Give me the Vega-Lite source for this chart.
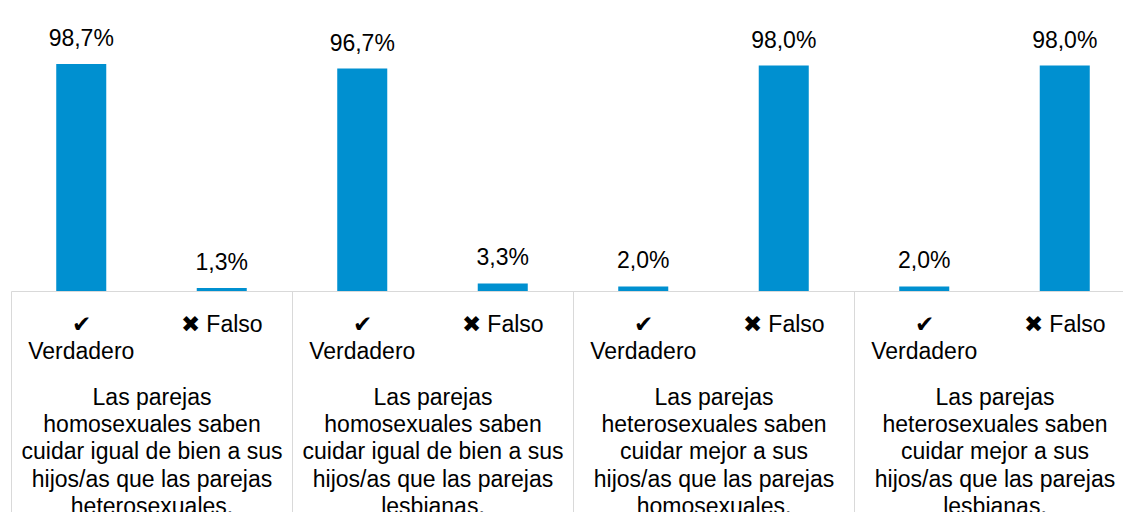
{
  "$schema": "https://vega.github.io/schema/vega-lite/v6.json",
  "width": 1124,
  "height": 230,
  "autosize": {"type": "none"},
  "padding": {"left": 11, "top": 61, "right": 0, "bottom": 221},
  "background": "#ffffff",
  "config": {
    "view": {"stroke": null},
    "font": "Liberation Sans",
    "locale": {"number": {"decimal": ",", "thousands": ".", "grouping": [3], "currency": ["", " €"]}},
    "axis": {"labelFont": "Liberation Sans", "labelColor": "#000000", "labelFontSize": 23, "title": null}
  },
  "data": {
    "values": [
      {"pregunta": "Las parejas homosexuales saben cuidar igual de bien a sus hijos/as que las parejas heterosexuales.", "respuesta": "Verdadero", "clave": "1 Verdadero", "valor": 0.987},
      {"pregunta": "Las parejas homosexuales saben cuidar igual de bien a sus hijos/as que las parejas heterosexuales.", "respuesta": "Falso", "clave": "1 Falso", "valor": 0.013},
      {"pregunta": "Las parejas homosexuales saben cuidar igual de bien a sus hijos/as que las parejas lesbianas.", "respuesta": "Verdadero", "clave": "2 Verdadero", "valor": 0.967},
      {"pregunta": "Las parejas homosexuales saben cuidar igual de bien a sus hijos/as que las parejas lesbianas.", "respuesta": "Falso", "clave": "2 Falso", "valor": 0.033},
      {"pregunta": "Las parejas heterosexuales saben cuidar mejor a sus hijos/as que las parejas homosexuales.", "respuesta": "Verdadero", "clave": "3 Verdadero", "valor": 0.02},
      {"pregunta": "Las parejas heterosexuales saben cuidar mejor a sus hijos/as que las parejas homosexuales.", "respuesta": "Falso", "clave": "3 Falso", "valor": 0.98},
      {"pregunta": "Las parejas heterosexuales saben cuidar mejor a sus hijos/as que las parejas lesbianas.", "respuesta": "Verdadero", "clave": "4 Verdadero", "valor": 0.02},
      {"pregunta": "Las parejas heterosexuales saben cuidar mejor a sus hijos/as que las parejas lesbianas.", "respuesta": "Falso", "clave": "4 Falso", "valor": 0.98}
    ]
  },
  "resolve": {"scale": {"x": "independent"}, "axis": {"x": "independent"}},
  "layer": [
    {
      "layer": [
        {
          "mark": {"type": "bar", "color": "#0090D0"},
          "encoding": {
            "x": {
              "field": "clave", "type": "nominal", "sort": null,
              "scale": {"paddingInner": 0.644, "paddingOuter": 0.322},
              "axis": {
                "orient": "bottom",
                "domain": true, "domainColor": "#d9d9d9", "domainWidth": 1,
                "ticks": false, "tickSize": 0,
                "labelAngle": 0, "labelAlign": "center", "labelBaseline": "top",
                "labelPadding": 22, "labelLineHeight": 27, "labelLimit": 0,
                "labelExpr": "indexof(datum.value, 'Verdadero') >= 0 ? ['✔', 'Verdadero'] : '✖ Falso'"
              }
            },
            "y": {"field": "valor", "type": "quantitative", "scale": {"domain": [0, 1]}, "axis": null}
          }
        },
        {
          "mark": {"type": "text", "baseline": "alphabetic", "dy": -18, "fontSize": 23, "font": "Liberation Sans", "color": "#000000"},
          "encoding": {
            "x": {"field": "clave", "type": "nominal", "sort": null},
            "y": {"field": "valor", "type": "quantitative"},
            "text": {"field": "valor", "type": "quantitative", "format": ".1%"}
          }
        }
      ]
    },
    {
      "mark": {"type": "point", "opacity": 0},
      "encoding": {
        "x": {
          "field": "pregunta", "type": "nominal", "sort": null,
          "scale": {"paddingInner": 0, "paddingOuter": 0},
          "axis": {
            "orient": "bottom", "domain": false, "ticks": false, "tickSize": 0,
            "labelAngle": 0, "labelAlign": "center", "labelBaseline": "top",
            "labelPadding": 95, "labelLineHeight": 27.4, "labelLimit": 0,
            "labelExpr": "datum.value == 'Las parejas homosexuales saben cuidar igual de bien a sus hijos/as que las parejas heterosexuales.' ? ['Las parejas', 'homosexuales saben', 'cuidar igual de bien a sus', 'hijos/as que las parejas', 'heterosexuales.'] : datum.value == 'Las parejas homosexuales saben cuidar igual de bien a sus hijos/as que las parejas lesbianas.' ? ['Las parejas', 'homosexuales saben', 'cuidar igual de bien a sus', 'hijos/as que las parejas', 'lesbianas.'] : datum.value == 'Las parejas heterosexuales saben cuidar mejor a sus hijos/as que las parejas homosexuales.' ? ['Las parejas', 'heterosexuales saben', 'cuidar mejor a sus', 'hijos/as que las parejas', 'homosexuales.'] : ['Las parejas', 'heterosexuales saben', 'cuidar mejor a sus', 'hijos/as que las parejas', 'lesbianas.']"
          }
        },
        "y": {"field": "valor", "type": "quantitative"}
      }
    },
    {
      "mark": {"type": "point", "opacity": 0},
      "encoding": {
        "x": {
          "field": "pregunta", "type": "nominal", "sort": null,
          "scale": {"paddingInner": 0, "paddingOuter": 0},
          "axis": {
            "orient": "bottom", "domain": false, "labels": false,
            "ticks": true, "tickSize": 240, "tickColor": "#d9d9d9", "tickWidth": 1,
            "tickBand": "extent"
          }
        },
        "y": {"field": "valor", "type": "quantitative"}
      }
    }
  ]
}
